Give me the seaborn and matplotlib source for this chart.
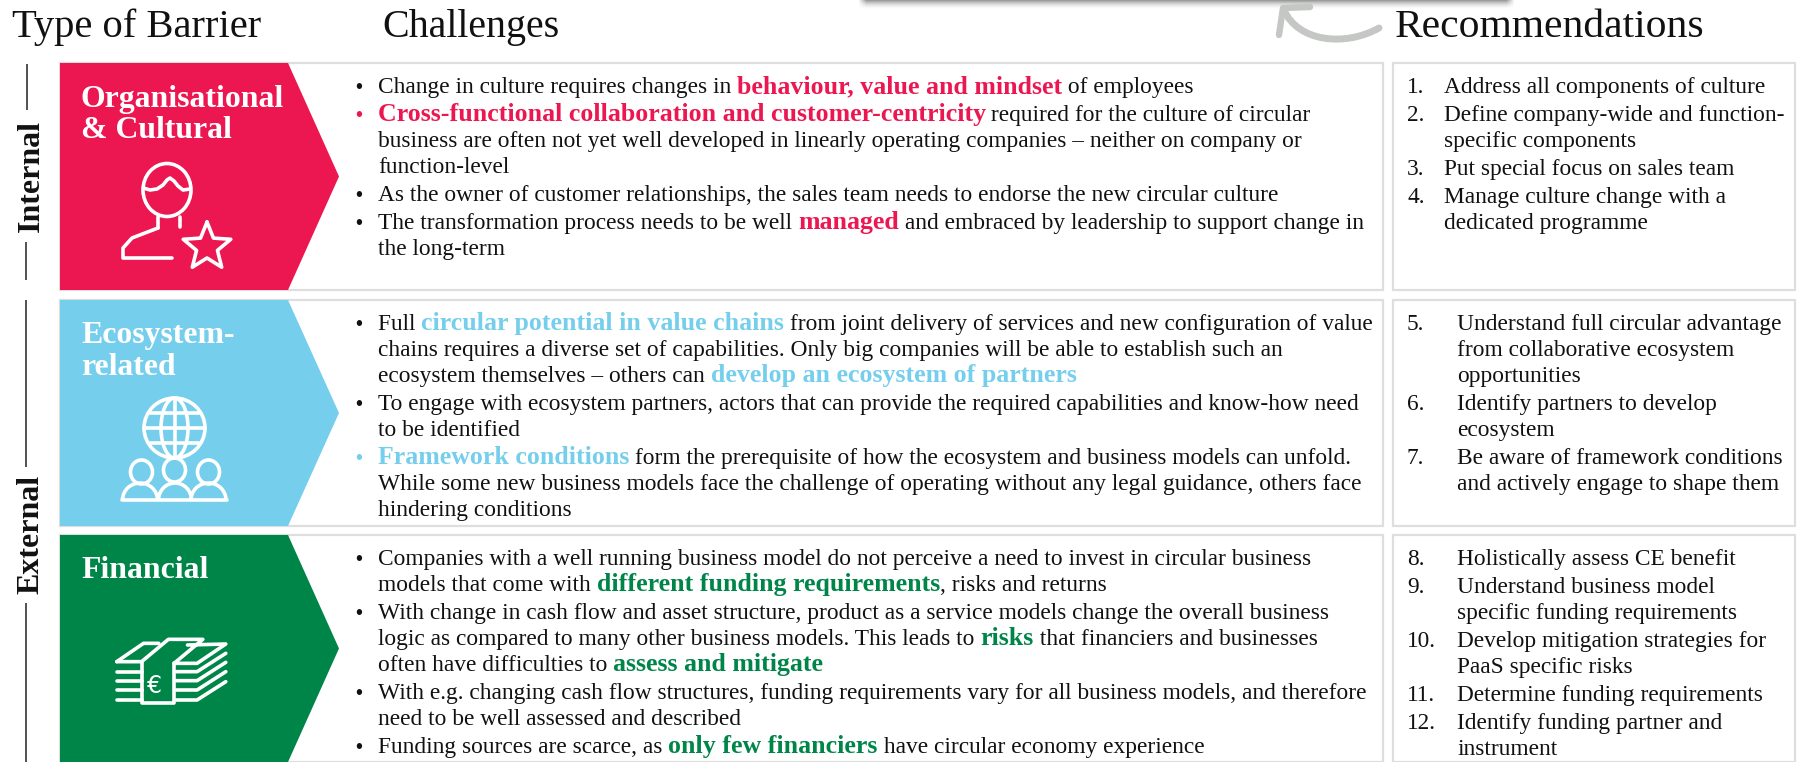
import matplotlib
matplotlib.use("Agg")
import matplotlib.pyplot as plt
from matplotlib.patches import Ellipse, Polygon, Rectangle, Arc, PathPatch
from matplotlib.path import Path
import seaborn as sns
import numpy as np

HEADERS = ["Type of Barrier", "Challenges", "Recommendations"]
SIDE_LABELS = ["Internal", "External"]
BARRIERS = [["Organisational", "& Cultural"], ["Ecosystem-", "related"], ["Financial"]]
BARRIER_COLORS = ["#EC1650", "#75CEEC", "#008549"]

# "- " starts a bullet, *...* is the bold coloured part
ORG_CHALLENGES = [
    "- Change in culture requires changes in *behaviour, value and mindset* of employees",
    "- *Cross-functional collaboration and customer-centricity* required for the culture of circular",
    "business are often not yet well developed in linearly operating companies – neither on company or",
    "function-level",
    "- As the owner of customer relationships, the sales team needs to endorse the new circular culture",
    "- The transformation process needs to be well *managed* and embraced by leadership to support change in",
    "the long-term",
]
ECO_CHALLENGES = [
    "- Full *circular potential in value chains* from joint delivery of services and new configuration of value",
    "chains requires a diverse set of capabilities. Only big companies will be able to establish such an",
    "ecosystem themselves – others can *develop an ecosystem of partners*",
    "- To engage with ecosystem partners, actors that can provide the required capabilities and know-how need",
    "to be identified",
    "- *Framework conditions* form the prerequisite of how the ecosystem and business models can unfold.",
    "While some new business models face the challenge of operating without any legal guidance, others face",
    "hindering conditions",
]
FIN_CHALLENGES = [
    "- Companies with a well running business model do not perceive a need to invest in circular business",
    "models that come with *different funding requirements*, risks and returns",
    "- With change in cash flow and asset structure, product as a service models change the overall business",
    "logic as compared to many other business models. This leads to *risks* that financiers and businesses",
    "often have difficulties to *assess and mitigate*",
    "- With e.g. changing cash flow structures, funding requirements vary for all business models, and therefore",
    "need to be well assessed and described",
    "- Funding sources are scarce, as *only few financiers* have circular economy experience",
]

ORG_RECS = [
    "1. Address all components of culture",
    "2. Define company-wide and function-",
    "specific components",
    "3. Put special focus on sales team",
    "4. Manage culture change with a",
    "dedicated programme",
]
ECO_RECS = [
    "5. Understand full circular advantage",
    "from collaborative ecosystem",
    "opportunities",
    "6. Identify partners to develop",
    "ecosystem",
    "7. Be aware of framework conditions",
    "and actively engage to shape them",
]
FIN_RECS = [
    "8. Holistically assess CE benefit",
    "9. Understand business model",
    "specific funding requirements",
    "10. Develop mitigation strategies for",
    "PaaS specific risks",
    "11. Determine funding requirements",
    "12. Identify funding partner and",
    "instrument",
]

sns.set_theme(style="white", font="Liberation Serif")
plt.rcParams["font.family"] = ["Liberation Serif", "DejaVu Serif"]
palette = sns.color_palette(BARRIER_COLORS)

fig = plt.figure(figsize=(17.97, 7.62), dpi=100)
ax = fig.add_axes([0, 0, 1, 1])
ax.set_xlim(0, 1797)
ax.set_ylim(762, 0)
ax.axis("off")
sns.despine(ax=ax, left=True, bottom=True)
rend = fig.canvas.get_renderer()


def text_w(s, size, weight="normal"):
    t = ax.text(0, 0, s + ".", fontsize=size, fontweight=weight)
    d = ax.text(0, 0, ".", fontsize=size, fontweight=weight)
    w = t.get_window_extent(rend).width - d.get_window_extent(rend).width
    t.remove()
    d.remove()
    return w


def fit(s, width, weight="normal"):
    return 20 * width / text_w(s, 20, weight)


BODY = fit("The transformation process needs to be well and embraced by leadership to support change in", 878)
BOLD = fit("Cross-functional collaboration and customer-centricity", 604, "bold")
PANEL = fit("Organisational", 203, "bold")
SIDE = fit("Internal", 112, "bold")
DROP = 8  # baseline below the line centre


def draw_runs(x, base, line, color):
    parts = line.split("*")
    for i, p in enumerate(parts):
        if not p:
            continue
        bold = i % 2 == 1
        size = BOLD if bold else BODY
        weight = "bold" if bold else "normal"
        ax.text(x, base, p, fontsize=size, fontweight=weight,
                color=color if bold else "#111111", va="baseline")
        x += text_w(p, size, weight)


def draw_challenges(lines, y, color):
    for n, line in enumerate(lines):
        if line.startswith("- "):
            if n > 0:
                y += 2
            line = line[2:]
            ax.text(359, y + DROP, "•", fontsize=BODY * 0.85, ha="center", va="baseline",
                    color=color if line.startswith("*") else "#111111", fontweight="bold")
        draw_runs(378, y + DROP, line, color)
        y += 26


def draw_recs(lines, y, text_x):
    for n, line in enumerate(lines):
        head = line.split(" ")[0]
        if head[:-1].isdigit() and head.endswith("."):
            if n > 0:
                y += 2
            ax.text(1407, y + DROP, head, fontsize=BODY, color="#111111", va="baseline")
            line = line[len(head) + 1:]
        ax.text(text_x, y + DROP, line, fontsize=BODY, color="#111111", va="baseline")
        y += 26


# rows
tops = [63, 300, 535]
bottoms = [290, 526, 762]
for top, bot, col in zip(tops, bottoms, palette):
    ax.add_patch(Rectangle((60, top), 1323, bot - top, fc="white", ec="#DEDEDE", lw=1.6))
    ax.add_patch(Rectangle((1393, top), 402, bot - top, fc="white", ec="#DEDEDE", lw=1.6))
    mid = (top + bot) / 2
    ax.add_patch(Polygon([(60, top), (288, top), (339, mid), (288, bot), (60, bot)],
                         closed=True, fc=col, ec="none", zorder=2))

for baselines, lines in zip([[107, 138], [343, 375], [578]], BARRIERS):
    for b, s in zip(baselines, lines):
        ax.text(81, b, s, color="white", fontsize=PANEL, fontweight="bold", va="baseline", zorder=3)

for lines, y, col in zip([ORG_CHALLENGES, ECO_CHALLENGES, FIN_CHALLENGES], [85, 322, 557], palette):
    draw_challenges(lines, y, col)

draw_recs(ORG_RECS, 85, 1444)
draw_recs(ECO_RECS, 322, 1457)
draw_recs(FIN_RECS, 557, 1457)

# column headers
for s, x, w in zip(HEADERS, [12, 382, 1395], [248, 178, 309]):
    ax.text(x, 37, s, fontsize=fit(s, w), color="#111111", va="baseline")

# side labels and rules
ax.text(31, 176, SIDE_LABELS[0], rotation=90, fontsize=SIDE, fontweight="bold", color="#111111",
        ha="center", va="center")
ax.text(31, 534, SIDE_LABELS[1], rotation=90, fontsize=SIDE, fontweight="bold", color="#111111",
        ha="center", va="center")
for x, y0, y1 in [(27, 64, 110), (25.5, 242, 280), (25.5, 300, 467), (25.5, 603, 762)]:
    ax.plot([x, x], [y0, y1], color="#222222", lw=1.1, solid_capstyle="butt")

# shadow strip at the top
xx = np.arange(850, 1525)
yy = np.arange(0, 12)
X, Y = np.meshgrid(xx, yy)
alpha = np.clip((X - 858) / 8, 0, 1) * np.clip((1514 - X) / 8, 0, 1) * np.clip(1 - Y / 9, 0, 1) ** 1.8 * 0.55
rgba = np.zeros(alpha.shape + (4,))
rgba[..., :3] = 0.3
rgba[..., 3] = alpha
ax.imshow(rgba, extent=(850, 1525, 12, 0), aspect="auto", zorder=1)
ax.set_xlim(0, 1797)
ax.set_ylim(762, 0)

# curved grey arrow
GREY = "#C4C7C4"
shaft = Path([(1379, 28), (1345, 47), (1298, 42), (1284, 10)],
             [Path.MOVETO, Path.CURVE4, Path.CURVE4, Path.CURVE4])
ax.add_patch(PathPatch(shaft, fc="none", ec=GREY, lw=5, capstyle="round"))
ax.plot([1279, 1283, 1310], [35, 8, 7], color=GREY, lw=4.6, solid_capstyle="round",
        solid_joinstyle="round")

# icons
W = dict(color="white", zorder=4, solid_capstyle="round", solid_joinstyle="round")
lw = 2.6


def ln(xs, ys, width=lw):
    ax.plot(xs, ys, lw=width, **W)


# person with star
ax.add_patch(Ellipse((167, 190), 48, 53, fc="none", ec="white", lw=lw, zorder=4))
ln([143.5, 150, 157, 163, 167, 170, 174, 178, 183, 190], [188, 190, 189, 185, 180, 178, 181, 186, 190, 189])
ln([158, 158], [217, 228])
ln([180, 180], [217, 227])
ln([158, 132, 123, 123, 172], [228, 238, 248, 258, 258])
ang = np.deg2rad(-90 + 36 * np.arange(11))
rad = np.where(np.arange(11) % 2 == 0, 25, 11)
ln(207 + rad * np.cos(ang), 247 + rad * np.sin(ang))

# globe and people
ax.add_patch(Ellipse((174.5, 428), 61, 60, fc="none", ec="white", lw=lw, zorder=4))
ax.add_patch(Ellipse((174.5, 428), 27, 60, fc="none", ec="white", lw=lw, zorder=4))
ln([174.5, 174.5], [398, 458])
ln([144, 205], [428, 428])
ln([150, 199], [413, 413])
ln([150, 199], [443, 443])
for cx, cy in [(141.5, 472), (174.5, 470), (208.5, 472)]:
    ax.add_patch(Ellipse((cx, cy), 22, 24, fc="none", ec="white", lw=lw, zorder=4))
for cx, w in [(140, 35), (175, 33), (208.5, 35)]:
    ax.add_patch(Arc((cx, 500), w, 34, theta1=180, theta2=360, ec="white", lw=lw, zorder=4))
ln([122, 227], [500, 500])

# banknotes
gx = lambda v: np.array(v) / 2.613
gy = lambda v: np.array(v) / 3 + 520
ln(gx([370, 370, 455, 455]), gy([425, 550, 550, 430]))
ln(gx([305, 370, 440, 530, 455, 515, 590, 490]), gy([425, 425, 358, 358, 430, 430, 372, 375]))
ln(gx([305, 375, 415]), gy([425, 370, 370]))
for y in [455, 482, 510, 540]:
    ln(gx([305, 370]), gy([y, y]))
    ln(gx([460, 515, 590]), gy([y, y, y - 55]))
ax.text(gx(405), gy(497), "€", color="white", fontsize=17, ha="center", va="center",
        family="DejaVu Sans", zorder=4)

fig.savefig("out.png", dpi=100, facecolor="white")
